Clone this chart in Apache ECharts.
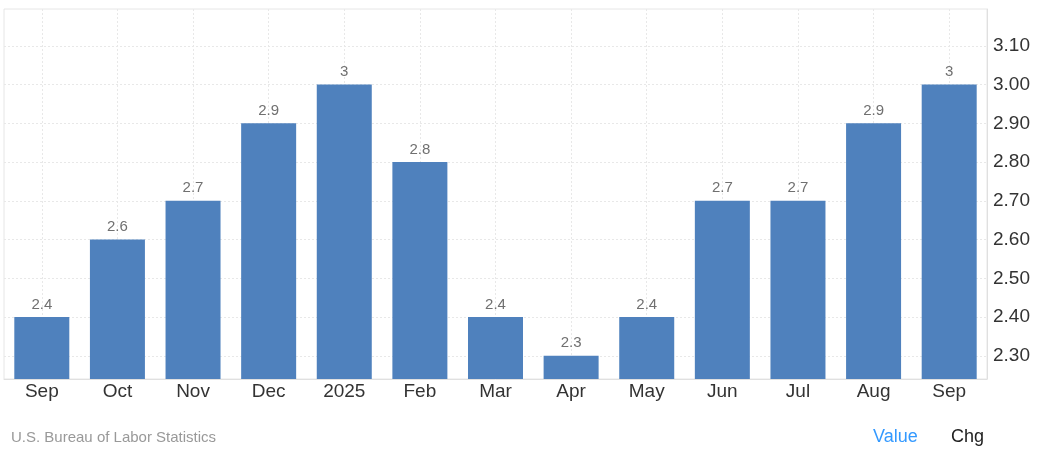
<!DOCTYPE html>
<html><head><meta charset="utf-8">
<script src="https://cdn.jsdelivr.net/npm/echarts@6/dist/echarts.min.js"></script>
<style>html,body{margin:0;padding:0;background:#fff}#c{width:1037px;height:458px}</style>
</head><body><div id="c"></div>
<script>
const categories = ['Sep','Oct','Nov','Dec','2025','Feb','Mar','Apr','May','Jun','Jul','Aug','Sep'];
const values = [2.4,2.6,2.7,2.9,3,2.8,2.4,2.3,2.4,2.7,2.7,2.9,3];
const yTicks = [2.3,2.4,2.5,2.6,2.7,2.8,2.9,3.0,3.1];
const sourceText = 'U.S. Bureau of Labor Statistics';
const tabLabels = ['Value','Chg'];

const chart = echarts.init(document.getElementById('c'), null, {renderer:'canvas'});
const font = 'Liberation Sans, Arial, sans-serif';
chart.setOption({
  animation:false,
  textStyle:{fontFamily:font},
  grid:{left:4,right:50,top:9,bottom:79,containLabel:false,show:true,borderColor:'#e6e6e6',borderWidth:1},
  xAxis:{
    type:'category',data:categories,boundaryGap:true,
    axisLine:{show:true,lineStyle:{color:'#e0e0e0'}},
    axisTick:{show:false},
    axisLabel:{color:'#333',fontSize:19,margin:3,fontFamily:font},
    splitLine:{show:true,alignWithLabel:true,lineStyle:{color:'#e8e8e8',type:[2,2]}}
  },
  yAxis:{
    type:'value',position:'right',min:2.24,max:3.195,
    axisLine:{show:true,lineStyle:{color:'#e0e0e0'}},
    axisTick:{show:false,customValues:yTicks},
    axisLabel:{color:'#333',fontSize:19,margin:6,fontFamily:font,customValues:yTicks,padding:[0,0,4,0],formatter:v=>v.toFixed(2)},
    splitLine:{show:true,lineStyle:{color:'#e8e8e8',type:[2,2]}}
  },
  series:[{
    type:'bar',data:values,barWidth:55,
    itemStyle:{color:'#4f81bd'},
    label:{show:true,position:'top',color:'#707070',fontSize:15,distance:5,fontFamily:font}
  }],
  graphic:[
    {type:'text',left:11,top:430,style:{text:sourceText,fill:'#999',font:'15px '+font}},
    {type:'text',left:873,top:428,style:{text:tabLabels[0],fill:'#3399ff',font:'18px '+font}},
    {type:'text',left:951,top:428,style:{text:tabLabels[1],fill:'#222',font:'18px '+font}}
  ]
});
</script></body></html>
